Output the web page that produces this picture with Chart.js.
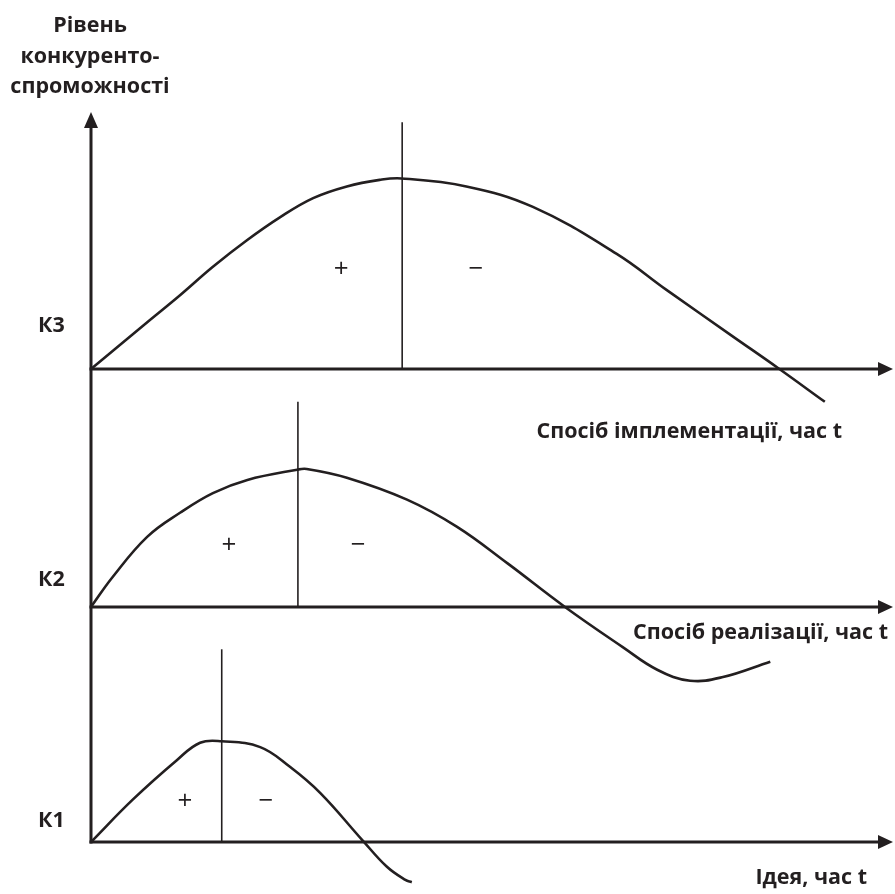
<!DOCTYPE html>
<html lang="uk">
<head>
<meta charset="UTF-8" />
<title>Рівень конкурентоспроможності</title>
<script src="https://cdn.jsdelivr.net/npm/chart.js"></script>
<style>
  body { margin: 0; background: #fff; }
  #wrap { width: 895px; height: 894px; position: relative; }
</style>
</head>
<body>
<div id="wrap"><canvas id="myChart"></canvas></div>
<script>
// час t: 0..100 вздовж горизонтальної осі; рівень рахується від своєї осі
const ideaT = [0, 5.2, 10.7, 13.6, 16.3, 21.1, 24.8, 28.6, 33.8, 36.9, 39.2, 40.0];
const ideaLevel = [0, 5.8, 11.2, 13.6, 13.8, 13.0, 10.3, 6.7, 0.3, -3.4, -5.2, -5.5];

const realT = [0, 2.7, 7.0, 11.1, 15.2, 19.5, 25.7, 26.9, 31.9, 39.4, 45.6, 51.9, 59.1, 66.3, 70.6, 74.7, 78.8, 84.7];
const realLevel = [0, 4.1, 9.6, 12.9, 15.6, 17.4, 18.8, 18.9, 17.7, 14.7, 11.0, 6.0, 0, -5.5, -8.6, -10.1, -9.6, -7.5];

const implT = [0, 6.9, 11.1, 15.2, 19.4, 23.6, 27.7, 31.9, 36.0, 38.7, 46.8, 55.1, 65.5, 71.8, 80.1, 85.7, 91.5];
const implLevel = [0, 6.3, 10.1, 14.0, 17.6, 20.8, 23.4, 25.0, 25.9, 26.1, 25.0, 22.2, 15.8, 10.8, 4.4, 0.1, -4.5];

// вертикальні лінії (межа "+" / "−") для К1, К2, К3
const peakT = [16.3, 25.8, 38.8];
const peakTop = [26.4, 28.1, 33.8];

const plusT = [11.7, 17.2, 31.2];
const minusT = [21.8, 33.3, 48.0];
const signLevel = [5.6, 8.4, 13.6];

const panelLabels = ["К1", "К2", "К3"];
const axisTitles = ["Ідея, час t", "Спосіб реалізації, час t", "Спосіб імплементації, час t"];
const yTitle = ["Рівень", "конкуренто-", "спроможності"];

// зсув кожної осі на спільній шкалі 0..100
const panelBase = [0, 32.2, 64.8];

const ink = "#231f20";
const boldFont = "bold 21.5px 'Open Sans'";

const toPoints = (ts, ys) => ts.map((t, i) => ({ x: t, y: ys[i] }));

const curves = [
  toPoints(ideaT, ideaLevel),
  toPoints(realT, realLevel),
  toPoints(implT, implLevel),
];

const datasets = [];
curves.forEach((pts, i) => {
  datasets.push({
    data: pts,
    yAxisID: "y" + (i + 1),
    borderColor: ink,
    borderWidth: 2.6,
    pointRadius: 0,
    tension: 0.4,
    clip: false,
  });
  datasets.push({
    data: [{ x: peakT[i], y: 0 }, { x: peakT[i], y: peakTop[i] }],
    yAxisID: "y" + (i + 1),
    borderColor: ink,
    borderWidth: 1.6,
    pointRadius: 0,
    clip: false,
  });
});

const scales = { x: { type: "linear", min: 0, max: 100, display: false } };
panelBase.forEach((b, i) => {
  scales["y" + (i + 1)] = { type: "linear", min: -b, max: 100 - b, display: false };
});

const arrowAxes = {
  id: "arrowAxes",
  beforeDatasetsDraw(chart) {
    const { ctx } = chart;
    const sx = chart.scales.x;
    const x0 = sx.getPixelForValue(0);
    const x1 = sx.getPixelForValue(100);
    const yTop = chart.scales.y1.getPixelForValue(100);
    const yBot = chart.scales.y1.getPixelForValue(0);

    ctx.save();
    ctx.strokeStyle = ink;
    ctx.fillStyle = ink;
    ctx.lineWidth = 3;

    ctx.beginPath();
    ctx.moveTo(x0, yBot + 1.5);
    ctx.lineTo(x0, yTop + 12);
    ctx.stroke();
    ctx.beginPath();
    ctx.moveTo(x0, yTop);
    ctx.lineTo(x0 - 7, yTop + 16);
    ctx.lineTo(x0 + 7, yTop + 16);
    ctx.closePath();
    ctx.fill();

    panelBase.forEach((b, i) => {
      const y = chart.scales["y" + (i + 1)].getPixelForValue(0);
      ctx.beginPath();
      ctx.moveTo(x0 - 1.5, y);
      ctx.lineTo(x1 - 12, y);
      ctx.stroke();
      ctx.beginPath();
      ctx.moveTo(x1, y);
      ctx.lineTo(x1 - 15, y - 7);
      ctx.lineTo(x1 - 15, y + 7);
      ctx.closePath();
      ctx.fill();
    });
    ctx.restore();
  },
  afterDatasetsDraw(chart) {
    const { ctx } = chart;
    const sx = chart.scales.x;
    ctx.save();
    ctx.fillStyle = ink;
    ctx.textBaseline = "alphabetic";

    // назва вертикальної осі
    ctx.font = boldFont;
    ctx.textAlign = "center";
    yTitle.forEach((s, i) => ctx.fillText(s, 90, 32 + i * 30.5));

    const labelBaseline = [827, 586, 332];
    const titleBaseline = [884, 639, 438];
    const titleRight = [867, 888, 842];

    panelBase.forEach((b, i) => {
      const sy = chart.scales["y" + (i + 1)];
      ctx.font = boldFont;
      ctx.textAlign = "left";
      ctx.fillText(panelLabels[i], 38, labelBaseline[i]);
      ctx.textAlign = "right";
      ctx.fillText(axisTitles[i], titleRight[i], titleBaseline[i]);

      ctx.font = "26px 'Open Sans'";
      ctx.textAlign = "center";
      ctx.textBaseline = "middle";
      ctx.fillText("+", sx.getPixelForValue(plusT[i]), sy.getPixelForValue(signLevel[i]));
      ctx.fillText("−", sx.getPixelForValue(minusT[i]), sy.getPixelForValue(signLevel[i]));
      ctx.textBaseline = "alphabetic";
    });
    ctx.restore();
  },
};

new Chart(document.getElementById("myChart"), {
  type: "line",
  data: { datasets },
  options: {
    responsive: true,
    maintainAspectRatio: false,
    animation: false,
    layout: { padding: { left: 91, right: 2, top: 112, bottom: 52 } },
    plugins: { legend: { display: false }, tooltip: { enabled: false } },
    scales,
  },
  plugins: [arrowAxes],
});
</script>
</body>
</html>
